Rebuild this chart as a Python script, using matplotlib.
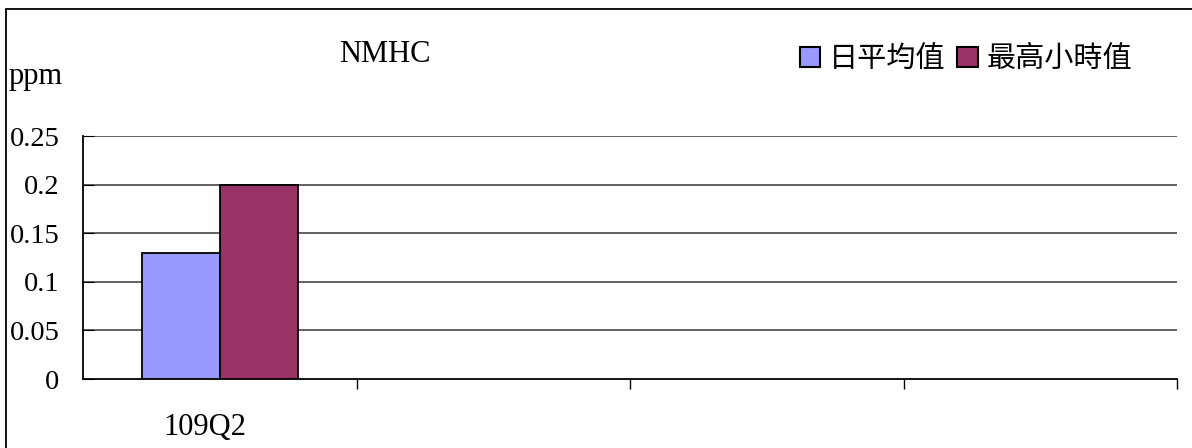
import matplotlib.pyplot as plt
from matplotlib.patches import Rectangle, Patch
import numpy as np

# 資料
categories = ["109Q2", "", "", ""]
daily_avg = [0.13]       # 日平均值
max_hourly = [0.20]      # 最高小時值
series_names = ["日平均值", "最高小時值"]
yticks = [0, 0.05, 0.1, 0.15, 0.2, 0.25]
ytick_labels = ["0", "0.05", "0.1", "0.15", "0.2", "0.25"]

serif = ["Liberation Serif", "DejaVu Serif"]
cjk = ["Noto Sans CJK TC", "DejaVu Sans"]
c_avg = "#9999FF"
c_max = "#993366"

fig = plt.figure(figsize=(11.92, 4.48), dpi=100)
ax = fig.add_axes([83 / 1192, 1 - 379 / 448, (1177 - 83) / 1192, (379 - 136) / 448])

w = 0.285
x = np.arange(len(daily_avg))
ax.bar(x - w / 2, daily_avg, width=w, color=c_avg, edgecolor="black", linewidth=1.3, zorder=3)
ax.bar(x + w / 2, max_hourly, width=w, color=c_max, edgecolor="black", linewidth=1.3, zorder=3)

ax.set_xlim(-0.5, len(categories) - 0.5)
ax.set_ylim(0, 0.25)

# 格線
for y in yticks[1:]:
    ax.axhline(y, color="#555555", linewidth=1.3, zorder=1)

ax.set_yticks(yticks)
ax.set_yticklabels(ytick_labels, fontfamily=serif, fontsize=20.5)
ax.tick_params(axis="y", direction="in", length=8, pad=17)

# x 軸刻度在分類之間
ax.set_xticks(np.arange(len(categories)) + 0.5)
ax.set_xticklabels([])
ax.tick_params(axis="x", direction="out", length=7, width=1)
for i, lab in enumerate(categories):
    ax.text(i - 0.055, -0.035, lab, ha="center", va="top", fontfamily=serif, fontsize=22,
            transform=ax.transData, clip_on=False)

for s in ["top", "right"]:
    ax.spines[s].set_visible(False)
ax.spines["left"].set_linewidth(1.3)
ax.spines["bottom"].set_linewidth(1.3)

fig.text(385 / 1192, 1 - 55 / 448, "NMHC", ha="center", va="center", fontfamily=serif, fontsize=22)
fig.text(9 / 1192, 1 - 76 / 448, "ppm", ha="left", va="center", fontfamily=serif, fontsize=22)

handles = [Patch(facecolor=c_avg, edgecolor="black", linewidth=1.5),
           Patch(facecolor=c_max, edgecolor="black", linewidth=1.5)]
fig.legend(handles, series_names, loc="center", bbox_to_anchor=(966 / 1192, 1 - 59 / 448),
           ncol=2, frameon=False, prop={"family": cjk, "size": 21},
           handlelength=0.7, handleheight=0.7, handletextpad=0.3, columnspacing=0.4)

# 外框
fig.patches.append(Rectangle((6 / 1192, -0.01), 1.0, 1 - 9 / 448 + 0.01,
                             transform=fig.transFigure, fill=False, edgecolor="black", linewidth=1.3))

fig.savefig("out.png", dpi=100)
